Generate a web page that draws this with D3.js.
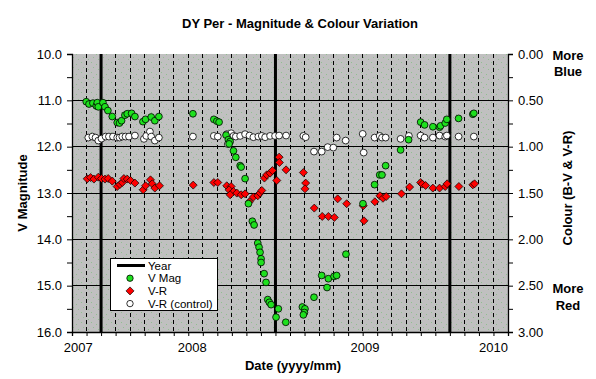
<!DOCTYPE html>
<html><head><meta charset="utf-8">
<script src="https://cdn.jsdelivr.net/npm/d3@7"></script>
<style>
html,body{margin:0;padding:0;background:#fff;}
svg{display:block;font-family:"Liberation Sans",Arial,sans-serif;}
</style></head>
<body>
<svg id="c" width="596" height="379"></svg>
<script>
// ---- data (x in months from start of axis, V in magnitudes, colours in mag) ----
const xTickLabels = ["2007","2008","2009","2010"];
const xTickLabelPos = [0.43, 8.27, 20.16, 29.0];
const yearLines = [2, 14, 26];

const vMagX = [0.98,1.17,1.44,1.67,1.74,1.81,2.13,2.27,2.47,2.77,3.11,3.27,3.41,3.64,3.80,4.10,4.33,4.88,5.06,5.45,5.70,5.98,8.32,9.76,9.97,10.12,10.60,10.76,10.88,10.81,11.11,11.27,11.57,11.64,11.91,12.14,12.41,12.53,12.78,12.87,12.94,13.01,13.01,13.22,13.35,13.47,13.58,13.70,14.04,14.20,14.71,15.85,16.03,15.99,15.92,16.65,17.18,17.55,17.64,18.03,18.21,18.85,20.02,20.82,21.17,21.33,21.58,22.61,23.16,23.99,24.26,24.83,25.29,25.36,25.68,25.79,26.60,27.58,27.65];
const vMag  = [11.03,11.08,11.06,11.12,11.05,11.14,11.05,11.14,11.22,11.35,11.48,11.49,11.44,11.32,11.29,11.28,11.35,11.46,11.41,11.36,11.44,11.35,11.29,11.41,11.45,11.47,11.75,11.85,11.89,11.94,12.09,12.23,12.41,12.44,12.69,13.23,13.61,13.69,14.08,14.17,14.28,14.42,14.50,14.74,14.93,15.30,15.36,15.41,15.68,15.50,15.79,15.46,15.50,15.58,15.63,15.25,14.78,15.04,14.85,14.80,14.78,14.32,13.23,12.82,12.61,12.61,12.41,12.07,11.85,11.47,11.53,11.57,11.58,11.55,11.49,11.41,11.39,11.30,11.28];

const vrX = [1.05,1.28,1.51,1.81,2.03,2.27,2.49,2.77,3.11,3.30,3.46,3.57,3.80,4.03,4.33,4.90,5.06,5.40,5.52,5.70,6.02,8.34,9.76,10.03,10.65,10.95,10.81,11.11,10.88,11.34,11.64,11.91,12.21,12.48,12.78,12.94,13.06,13.24,13.40,13.63,13.79,14.09,14.25,14.27,14.73,15.92,16.08,16.03,16.67,17.22,17.64,18.05,18.28,18.90,20.04,20.09,20.84,21.19,21.40,21.62,22.67,23.23,23.99,24.10,24.33,24.83,25.29,25.68,25.81,26.62,27.58,27.70];
const vr  = [1.347,1.333,1.350,1.329,1.344,1.350,1.344,1.372,1.430,1.408,1.387,1.344,1.350,1.365,1.393,1.466,1.422,1.358,1.401,1.447,1.422,1.415,1.387,1.387,1.422,1.430,1.466,1.484,1.519,1.501,1.519,1.509,1.595,1.544,1.530,1.501,1.473,1.339,1.304,1.286,1.258,1.365,1.113,1.171,1.250,1.279,1.393,1.455,1.663,1.753,1.753,1.764,1.563,1.616,1.638,1.800,1.595,1.530,1.557,1.538,1.509,1.436,1.387,1.404,1.419,1.447,1.447,1.430,1.401,1.430,1.412,1.401];

const ctrlX = [1.12,1.40,1.62,1.81,2.03,2.31,2.54,2.82,3.11,3.27,3.46,3.68,3.92,4.33,4.95,5.11,5.36,5.45,5.70,5.98,8.32,9.76,10.03,10.65,10.76,10.72,10.95,11.11,11.27,11.57,11.91,12.21,12.48,12.82,13.06,13.29,13.63,13.97,14.25,14.73,15.92,16.08,16.65,17.18,17.59,17.98,18.21,18.83,20.00,20.07,20.82,21.17,21.33,21.58,22.61,23.18,23.99,24.26,24.83,25.29,25.68,25.79,26.60,27.65];
const ctrl  = [0.902,0.891,0.902,0.934,0.913,0.891,0.891,0.891,0.902,0.902,0.891,0.891,0.891,0.880,0.916,0.884,0.837,0.891,0.934,0.902,0.891,0.884,0.891,0.865,0.898,0.973,0.855,0.884,0.891,0.884,0.865,0.880,0.898,0.891,0.884,0.898,0.884,0.884,0.880,0.880,0.884,0.898,1.053,1.053,1.005,1.010,0.902,0.934,0.862,1.064,0.902,0.884,0.902,0.902,0.916,0.884,0.880,0.902,0.902,0.880,0.891,0.880,0.891,0.891];

const magTicks = [10,11,12,13,14,15,16];
const colTicks = [0,0.5,1,1.5,2,2.5,3];

// ---- chart ----
const svg = d3.select("#c");
const L = 72, R = 508, T = 54, B = 332;
const x = d3.scaleLinear().domain([0,30]).range([L,R]);
const yL = d3.scaleLinear().domain([10,16]).range([T,B]);
const yR = d3.scaleLinear().domain([0,3]).range([T,B]);

const defs = svg.append("defs");
const pat = defs.append("pattern").attr("id","dots").attr("patternUnits","userSpaceOnUse")
  .attr("width",10).attr("height",10);
pat.append("rect").attr("width",10).attr("height",10).attr("fill","#c0c0c0");
[[1,2],[6,4],[3,7],[8,9]].forEach(p=>pat.append("rect").attr("x",p[0]).attr("y",p[1]).attr("width",1).attr("height",1).attr("fill","#8fc08f"));

svg.append("rect").attr("x",L).attr("y",T).attr("width",R-L).attr("height",B-T).attr("fill","url(#dots)");

// vertical dashed month lines
const months = d3.range(1,30).filter(m=>!yearLines.includes(m));
svg.append("g").selectAll("line").data(months).join("line")
  .attr("x1",d=>x(d)).attr("x2",d=>x(d)).attr("y1",T).attr("y2",B)
  .attr("stroke","#000").attr("stroke-width",1).attr("stroke-dasharray","4,3").attr("shape-rendering","crispEdges");

// horizontal grid
svg.append("g").selectAll("line").data(magTicks.slice(1,-1)).join("line")
  .attr("x1",L).attr("x2",R).attr("y1",d=>yL(d)).attr("y2",d=>yL(d))
  .attr("stroke","#000").attr("shape-rendering","crispEdges");

// year lines
svg.append("g").selectAll("line").data(yearLines).join("line")
  .attr("x1",d=>x(d)).attr("x2",d=>x(d)).attr("y1",T).attr("y2",B)
  .attr("stroke","#000").attr("stroke-width",3);

// axes
const axL = svg.append("g").attr("transform",`translate(${L},0)`)
  .call(d3.axisLeft(yL).tickValues(d3.range(10,16.01,0.5)).tickSize(5).tickFormat(d=>Number.isInteger(d)?d3.format(".1f")(d):""));
const axR = svg.append("g").attr("transform",`translate(${R},0)`)
  .call(d3.axisRight(yR).tickValues(d3.range(0,3.001,0.25)).tickSize(5).tickFormat(d=>(d*2)%1===0?d3.format(".2f")(d):""));
const axB = svg.append("g").attr("transform",`translate(0,${B})`)
  .call(d3.axisBottom(x).tickValues(d3.range(0,31)).tickSize(4).tickFormat(""));
[axL,axR,axB].forEach(a=>{
  a.select(".domain").attr("stroke","#000").attr("stroke-width",1.3);
  a.selectAll(".tick line").attr("stroke","#000");
  a.selectAll("text").attr("font-size",13).attr("fill","#000").attr("font-family","'Liberation Sans',Arial,sans-serif");
});
axL.selectAll(".tick text").attr("x",-10);
axR.selectAll(".tick text").attr("x",10);
axB.selectAll(".tick line").attr("y2",4);

svg.append("g").selectAll("text").data(xTickLabels).join("text")
  .attr("x",(d,i)=>x(xTickLabelPos[i])).attr("y",B+20).attr("text-anchor","middle")
  .attr("font-size",13).text(d=>d);

// points
const diamond = "M0,-4L4,0L0,4L-4,0Z";
svg.append("g").selectAll("circle").data(ctrlX).join("circle")
  .attr("cx",d=>x(d)).attr("cy",(d,i)=>yR(ctrl[i])).attr("r",3.4)
  .attr("fill","#fff").attr("stroke","#000").attr("stroke-width",0.8);
svg.append("g").selectAll("path").data(vrX).join("path")
  .attr("d",diamond).attr("transform",(d,i)=>`translate(${x(d)},${yR(vr[i])})`)
  .attr("fill","#ff0000").attr("stroke","#000").attr("stroke-width",0.7);
svg.append("g").selectAll("circle").data(vMagX).join("circle")
  .attr("cx",d=>x(d)).attr("cy",(d,i)=>yL(vMag[i])).attr("r",3.4)
  .attr("fill","#1ee01e").attr("stroke","#000").attr("stroke-width",0.8);

// titles
svg.append("text").attr("x",300).attr("y",28).attr("text-anchor","middle")
  .attr("font-size",13).attr("font-weight","bold").text("DY Per - Magnitude & Colour Variation");
svg.append("text").attr("x",293).attr("y",370).attr("text-anchor","middle")
  .attr("font-size",13).attr("font-weight","bold").text("Date (yyyy/mm)");
svg.append("text").attr("transform","translate(27,193) rotate(-90)").attr("text-anchor","middle")
  .attr("font-size",13).attr("font-weight","bold").text("V Magnitude");
svg.append("text").attr("transform","translate(572,188) rotate(-90)").attr("text-anchor","middle")
  .attr("font-size",13).attr("font-weight","bold").text("Colour (B-V & V-R)");
[["More",60],["Blue",76],["More",293],["Red",310]].forEach(t=>
  svg.append("text").attr("x",568).attr("y",t[1]).attr("text-anchor","middle")
   .attr("font-size",13).attr("font-weight","bold").text(t[0]));

// legend
const lg = svg.append("g");
lg.append("rect").attr("x",110.5).attr("y",258.5).attr("width",107).attr("height",52)
  .attr("fill","#fff").attr("stroke","#000");
const ly = [265.5,278.2,290.9,303.6];
const names = ["Year","V Mag","V-R","V-R (control)"];
lg.append("line").attr("x1",117).attr("x2",145).attr("y1",ly[0]).attr("y2",ly[0]).attr("stroke","#000").attr("stroke-width",3);
lg.append("circle").attr("cx",130).attr("cy",ly[1]).attr("r",3.2).attr("fill","#1ee01e").attr("stroke","#000").attr("stroke-width",0.8);
lg.append("path").attr("d",diamond).attr("transform",`translate(130,${ly[2]})`).attr("fill","#ff0000").attr("stroke","#000").attr("stroke-width",0.7);
lg.append("circle").attr("cx",130).attr("cy",ly[3]).attr("r",3.2).attr("fill","#fff").attr("stroke","#000").attr("stroke-width",0.8);
lg.selectAll("text.l").data(names).join("text").attr("class","l")
  .attr("x",148).attr("y",(d,i)=>ly[i]+4).attr("font-size",11.5).text(d=>d);
</script>
</body></html>
